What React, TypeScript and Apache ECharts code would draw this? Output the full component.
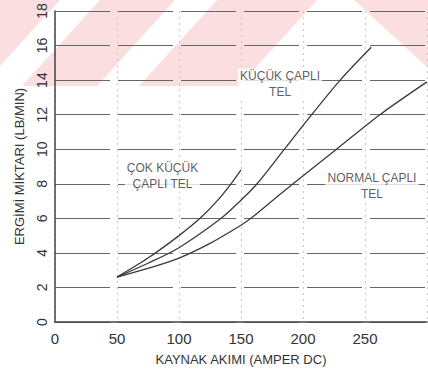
import React, { useEffect, useRef } from "react";
import * as echarts from "echarts";

// Ticks
const xTicks = [0, 50, 100, 150, 200, 250, 300];
const yTicks = [0, 2, 4, 6, 8, 10, 12, 14, 16, 18];

// "ÇOK KÜÇÜK ÇAPLI TEL"
const cokKucukX = [50, 75, 100, 117, 130, 142, 150];
const cokKucukY = [2.6, 3.7, 5.0, 6.0, 6.95, 8.0, 8.8];

// "KÜÇÜK ÇAPLI TEL"
const kucukX = [50, 75, 100, 134, 150, 163, 185, 207, 230, 255];
const kucukY = [2.6, 3.4, 4.3, 6.0, 7.05, 8.0, 10.0, 12.0, 14.0, 15.9];

// "NORMAL ÇAPLI TEL"
const normalX = [50, 75, 100, 125, 150, 158, 175, 192, 227, 262, 300];
const normalY = [2.6, 3.1, 3.7, 4.55, 5.6, 6.0, 7.0, 8.0, 10.0, 12.0, 13.9];

// Curve annotations
const labelTexts = ["KÜÇÜK ÇAPLI\nTEL", "ÇOK KÜÇÜK\nÇAPLI TEL", "NORMAL ÇAPLI\nTEL"];
const labelX = [181.5, 86.7, 255.6];
const labelY = [13.75, 8.47, 7.9];

const xName = "KAYNAK AKIMI (AMPER DC)";
const yName = "ERGİMİ MİKTARI (LB/MIN)";

const FONT = "'Liberation Sans', Arial, sans-serif";
const pink = "#fbdfe0";

function pairs(xs: number[], ys: number[]) {
  return xs.map((x, i) => [x, ys[i]]);
}

export default function App() {
  const ref = useRef<HTMLDivElement>(null);
  useEffect(() => {
    if (!ref.current) return;
    const chart = echarts.init(ref.current, null, { renderer: "svg" });
    const lineStyle = { color: "#3a3a3a", width: 1.3 };
    chart.setOption({
      animation: false,
      backgroundColor: "#ffffff",
      graphic: [
        { type: "polygon", z: -100, silent: true, shape: { points: [[0, 0], [60, 0], [0, 66]] }, style: { fill: pink } },
        { type: "polygon", z: -100, silent: true, shape: { points: [[100, 0], [175, 0], [97, 86], [22, 86]] }, style: { fill: pink } },
        { type: "polygon", z: -100, silent: true, shape: { points: [[217, 0], [317, 0], [239, 86], [139, 86]] }, style: { fill: pink } },
        { type: "polygon", z: -100, silent: true, shape: { points: [[354, 0], [428, 0], [428, 68]] }, style: { fill: pink } },
      ],
      grid: { left: 55, right: 1, top: 11, bottom: 48, containLabel: false },
      xAxis: {
        type: "value",
        min: xTicks[0],
        max: xTicks[xTicks.length - 1],
        interval: 50,
        name: xName,
        nameLocation: "middle",
        nameGap: 31,
        nameTextStyle: { fontFamily: FONT, fontSize: 13, color: "#333" },
        axisLine: { show: true, onZero: false, lineStyle: { color: "#444", width: 1.5 } },
        axisTick: { show: false },
        axisLabel: { showMaxLabel: false, margin: 9, fontFamily: FONT, fontSize: 15, color: "#333" },
        splitLine: { show: true, lineStyle: { color: "#c8c8c8", width: 1, type: [2, 4] } },
      },
      yAxis: {
        type: "value",
        min: yTicks[0],
        max: yTicks[yTicks.length - 1],
        interval: 2,
        name: yName,
        nameLocation: "middle",
        nameRotate: 90,
        nameGap: 29,
        nameTextStyle: { fontFamily: FONT, fontSize: 13, color: "#333" },
        axisLine: { show: true, lineStyle: { color: "#444", width: 1.5 } },
        axisTick: { show: false },
        axisLabel: { rotate: 90, margin: 6, fontFamily: FONT, fontSize: 14, color: "#333" },
        splitLine: { show: true, lineStyle: { color: "#666", width: 1, type: [55, 8] } },
      },
      series: [
        { name: "ÇOK KÜÇÜK ÇAPLI TEL", type: "line", data: pairs(cokKucukX, cokKucukY), smooth: 0.3, showSymbol: false, lineStyle },
        { name: "KÜÇÜK ÇAPLI TEL", type: "line", data: pairs(kucukX, kucukY), smooth: 0.3, showSymbol: false, lineStyle },
        { name: "NORMAL ÇAPLI TEL", type: "line", data: pairs(normalX, normalY), smooth: 0.3, showSymbol: false, lineStyle },
        {
          type: "scatter",
          symbolSize: 0,
          silent: true,
          data: labelTexts.map((t, i) => ({ value: [labelX[i], labelY[i]], name: t })),
          label: {
            show: true,
            position: "inside",
            formatter: (p: any) => p.name,
            fontFamily: FONT,
            fontSize: 12,
            lineHeight: 16,
            color: "#333",
            align: "center",
            verticalAlign: "middle",
            backgroundColor: "#ffffff",
            padding: [0, 2],
          },
        },
      ],
    });
    return () => chart.dispose();
  }, []);
  return <div ref={ref} style={{ width: 428, height: 371, position: "absolute", left: 0, top: 0 }} />;
}
